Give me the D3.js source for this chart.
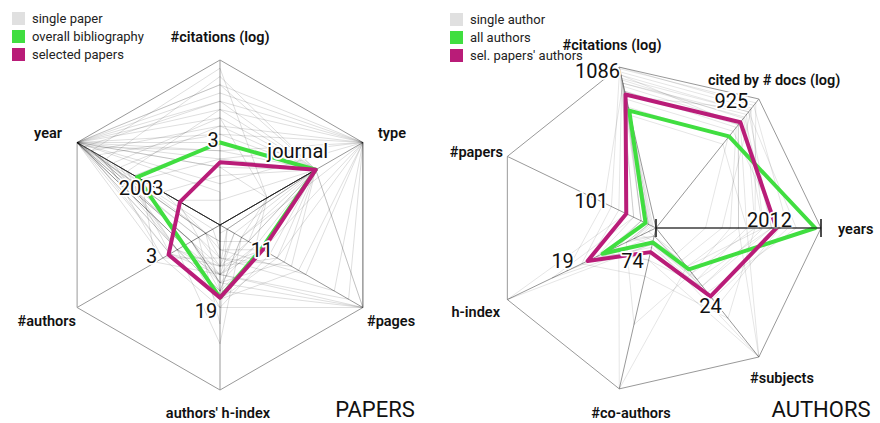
<!DOCTYPE html>
<html>
<head>
<meta charset="utf-8">
<script src="https://cdn.jsdelivr.net/npm/d3@7"></script>
<style>
  body { margin: 0; background: #fff; }
  text { font-family: Roboto, "Noto Sans", sans-serif; }
</style>
</head>
<body>
<svg width="880" height="423"></svg>
<script>
// --- PAPERS chart data (values normalised 0..1 along each axis) ---
const paperAxes = ["#citations (log)", "type", "#pages", "authors' h-index", "#authors", "year"];
const paperOverall = [0.50, 0.67, 0.29, 0.44, 0.25, 0.58];
const paperSelected = [0.38, 0.67, 0.30, 0.44, 0.36, 0.28];
const paperLabels = ["3", "journal", "11", "19", "3", "2003"];
const paperSingles = [
  [0.55, 0.67, 0.30, 0.40, 0.30, 1.00],
  [0.70, 0.67, 0.25, 0.35, 0.20, 1.00],
  [0.00, 0.67, 0.00, 0.20, 0.00, 1.00],
  [0.00, 0.67, 0.10, 0.30, 0.00, 0.85],
  [0.80, 1.00, 0.40, 0.45, 0.25, 1.00],
  [0.45, 1.00, 1.00, 0.30, 0.35, 0.95],
  [0.60, 0.67, 1.00, 0.40, 0.20, 0.90],
  [0.35, 0.33, 0.20, 0.25, 0.30, 1.00],
  [0.90, 0.67, 0.35, 0.50, 0.40, 0.80],
  [0.25, 1.00, 0.60, 0.15, 0.10, 1.00],
  [0.50, 0.67, 0.05, 0.05, 0.00, 0.60],
  [0.00, 0.67, 0.00, 0.35, 0.20, 0.00],
  [0.65, 0.33, 0.15, 0.72, 0.30, 0.75],
  [0.40, 0.67, 0.30, 0.30, 0.45, 0.55],
  [0.75, 1.00, 0.80, 0.20, 0.15, 1.00],
  [0.30, 0.67, 0.20, 0.10, 0.10, 0.40],
  [0.85, 0.67, 0.45, 0.35, 0.25, 1.00],
  [0.20, 0.00, 0.10, 0.25, 0.35, 1.00],
  [0.60, 1.00, 0.15, 0.40, 0.10, 0.70],
  [0.00, 0.67, 0.30, 0.15, 0.05, 1.00],
  [0.50, 0.67, 1.00, 0.50, 0.25, 1.00],
  [0.95, 0.33, 0.25, 0.30, 0.20, 0.90],
  [0.35, 0.67, 0.00, 0.20, 0.40, 1.00],
  [0.70, 1.00, 0.55, 0.45, 0.35, 0.65],
  [0.15, 0.67, 0.05, 0.60, 0.15, 0.30],
  [0.45, 0.67, 0.40, 0.25, 0.00, 1.00],
  [0.00, 0.67, 0.00, 0.10, 0.10, 1.00],
  [0.55, 1.00, 0.90, 0.30, 0.30, 0.85],
  [0.00, 0.67, 0.05, 0.25, 0.15, 0.90],
  [0.65, 0.67, 0.20, 0.30, 0.25, 1.00],
  [0.75, 0.67, 0.50, 0.20, 0.10, 0.95],
  [0.40, 1.00, 1.00, 0.35, 0.20, 1.00],
  [0.00, 0.67, 0.15, 0.40, 0.30, 0.70],
  [0.85, 1.00, 0.30, 0.25, 0.20, 1.00]
];

// --- AUTHORS chart data ---
const authorAxes = ["years", "#subjects", "#co-authors", "h-index", "#papers", "#citations (log)", "cited by # docs (log)"];
const authorAll = [0.965, 0.32, 0.09, 0.36, 0.07, 0.73, 0.71];
const authorSelected = [0.73, 0.53, 0.15, 0.46, 0.20, 0.83, 0.82];
const authorLabels = ["2012", "24", "74", "19", "101", "1086", "925"];
const authorSingles = [
  [0.70, 0.45, 0.10, 0.30, 0.10, 0.95, 0.90],
  [0.60, 0.35, 0.05, 0.20, 0.05, 0.90, 0.88],
  [0.80, 0.55, 0.15, 0.40, 0.15, 1.00, 0.95],
  [0.50, 1.00, 0.20, 0.35, 0.10, 0.85, 0.80],
  [0.65, 0.30, 1.00, 0.25, 0.08, 0.92, 0.85],
  [0.55, 0.40, 0.10, 1.00, 0.20, 0.88, 0.82],
  [0.75, 0.60, 0.05, 0.15, 0.05, 0.80, 0.75],
  [0.40, 0.25, 0.08, 0.10, 0.03, 0.97, 0.93],
  [0.85, 0.50, 0.12, 0.45, 0.25, 0.93, 0.90],
  [0.30, 0.20, 0.05, 0.05, 0.02, 0.75, 0.70],
  [0.60, 0.70, 0.30, 0.50, 0.30, 0.99, 0.97],
  [0.45, 0.35, 0.60, 0.20, 0.05, 0.85, 0.78],
  [0.70, 0.40, 0.05, 0.60, 0.35, 0.90, 0.86],
  [0.55, 1.00, 0.10, 0.15, 0.04, 0.70, 0.65],
  [0.65, 0.45, 0.20, 0.30, 0.10, 0.82, 0.92],
  [0.50, 0.30, 0.10, 0.70, 0.15, 0.95, 0.80]
];

const GREEN = "#40de40";
const MAGENTA = "#b91c78";
const R = 165;

const svg = d3.select("svg");

// legend
function legend(x, y, items) {
  const g = svg.append("g").attr("transform", `translate(${x},${y})`);
  items.forEach(([name, col], i) => {
    g.append("rect").attr("x", 0).attr("y", i * 18).attr("width", 13).attr("height", 13).attr("fill", col);
    g.append("text").attr("x", 20).attr("y", i * 18 + 11).attr("font-size", 13).attr("fill", "#222").text(name);
  });
}
legend(12, 12, [["single paper", "#e0e0e0"], ["overall bibliography", GREEN], ["selected papers", MAGENTA]]);
legend(450, 13, [["single author", "#e0e0e0"], ["all authors", GREEN], ["sel. papers' authors", MAGENTA]]);

// draws one radar, angles in d3.lineRadial convention (0 = up, clockwise)
function radar(cx, cy, startAngle, axes, singles, singleOpacity, overall, selected, labels, labelOffsets, axisLabelPos) {
  const n = axes.length;
  const angle = i => startAngle + i * 2 * Math.PI / n;
  const r = d3.scaleLinear().domain([0, 1]).range([0, R]);
  const g = svg.append("g").attr("transform", `translate(${cx},${cy})`);
  const pt = (v, i) => [r(v) * Math.sin(angle(i)), -r(v) * Math.cos(angle(i))];

  const line = d3.lineRadial()
    .angle((d, i) => angle(i))
    .radius(d => r(d))
    .curve(d3.curveLinearClosed);

  // outline and spokes
  g.append("path").attr("d", line(axes.map(() => 1)))
    .attr("fill", "none").attr("stroke", "#999").attr("stroke-width", 1);
  axes.forEach((a, i) => {
    const [x, y] = pt(1, i);
    g.append("line").attr("x1", 0).attr("y1", 0).attr("x2", x).attr("y2", y)
      .attr("stroke", "#999").attr("stroke-width", 1);
  });

  // single records
  g.append("g").selectAll("path").data(singles).join("path")
    .attr("d", d => line(d))
    .attr("fill", "none").attr("stroke", "#000")
    .attr("stroke-opacity", singleOpacity).attr("stroke-width", 1);

  // overall + selected
  [[overall, GREEN], [selected, MAGENTA]].forEach(([vals, col]) => {
    g.append("path").attr("d", line(vals))
      .attr("fill", "none").attr("stroke", col).attr("stroke-width", 4)
      .attr("stroke-linejoin", "round");
  });

  // value labels (white halo)
  labels.forEach((t, i) => {
    const [src, dx, dy] = labelOffsets[i];
    const [x, y] = pt(src === "g" ? overall[i] : selected[i], i);
    g.append("text").attr("x", x + dx).attr("y", y + dy)
      .attr("text-anchor", "middle").attr("font-size", 20).attr("fill", "#111")
      .attr("stroke", "#fff").attr("stroke-width", 3.5).attr("paint-order", "stroke")
      .attr("stroke-linejoin", "round")
      .text(t);
  });

  // axis names
  axes.forEach((a, i) => {
    const [x, y, anchor] = axisLabelPos[i];
    g.append("text").attr("x", x).attr("y", y).attr("text-anchor", anchor)
      .attr("font-size", 14.5).attr("font-weight", 600).attr("fill", "#111").text(a);
  });
  return { g, pt };
}

radar(220, 225, 0, paperAxes, paperSingles, 0.13, paperOverall, paperSelected, paperLabels,
  [["g", -7, 4], ["m", -18, -12], ["m", -1, 7], ["m", -14, 20], ["m", -17, 8], ["g", 4, 18]],
  [[0, -183, "middle"], [158, -87, "start"], [147, 101, "start"], [-2, 193, "middle"], [-144, 101, "end"], [-158, -87, "end"]]);

const right = radar(656, 228, Math.PI / 2, authorAxes, authorSingles, 0.1, authorAll, authorSelected, authorLabels,
  [["m", -7, -1], ["m", 0, 17], ["m", -18, 16], ["m", -25, 7], ["m", -35, -6], ["m", -28, -16], ["m", -9, -14]],
  [[182, 6, "start"], [126, 155, "middle"], [-25, 190, "middle"], [-156, 89, "end"], [-153, -71, "end"], [-44, -178, "middle"], [52, -143, "start"]]);

// years range indicator on the AUTHORS chart
const yEnd = right.pt(1, 0);
right.g.append("line").attr("x1", 0).attr("y1", 0).attr("x2", yEnd[0]).attr("y2", 0)
  .attr("stroke", "#111").attr("stroke-width", 1.2);
[0, yEnd[0]].forEach(x => {
  right.g.append("line").attr("x1", x).attr("x2", x).attr("y1", -9).attr("y2", 9)
    .attr("stroke", "#111").attr("stroke-width", 1.5);
});

// panel titles
svg.append("text").attr("x", 375).attr("y", 417).attr("text-anchor", "middle")
  .attr("font-size", 22).attr("fill", "#111").text("PAPERS");
svg.append("text").attr("x", 821).attr("y", 417).attr("text-anchor", "middle")
  .attr("font-size", 22).attr("fill", "#111").text("AUTHORS");
</script>
</body>
</html>
